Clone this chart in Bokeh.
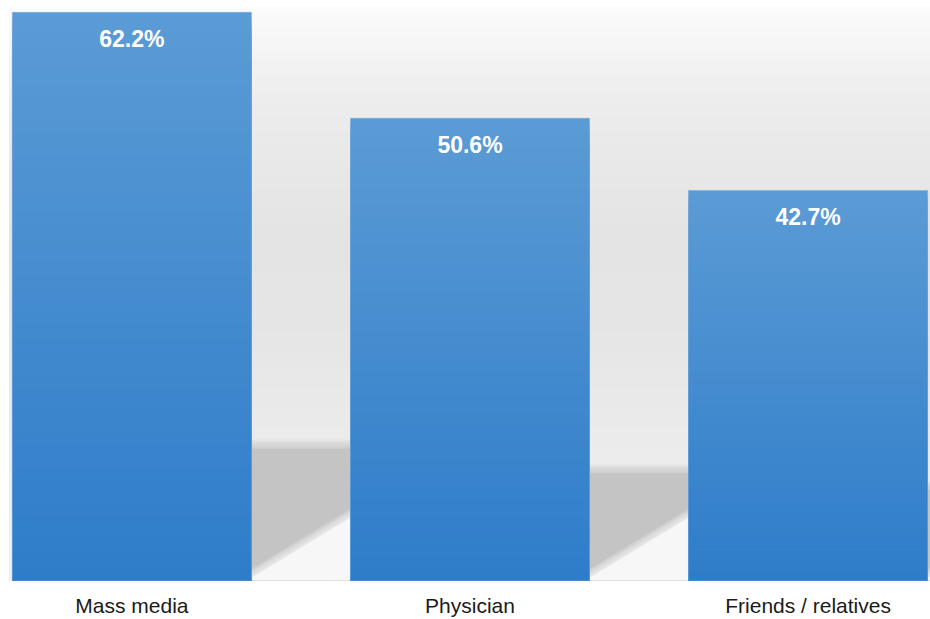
import numpy as np
from bokeh.plotting import figure
from bokeh.models import FactorRange, Range1d, ColumnDataSource
from bokeh.core.properties import value
from bokeh.embed import file_html
from bokeh.resources import INLINE

# ---- data ----
categories = ["Mass media", "Physician", "Friends / relatives"]
percentages = [62.2, 50.6, 42.7]
value_labels = ["62.2%", "50.6%", "42.7%"]

# ---- style ----
Y_MAX = 63.5
BAR_WIDTH = 0.707
BAR_TOP_COLOR = (91, 155, 213)
BAR_BOTTOM_COLOR = (46, 124, 201)
SHADOW_RATIO = 0.232
WALL_STOPS = [(0.0, 240), (0.22, 236), (0.45, 229), (0.62, 228), (0.85, 237), (1.0, 251)]  # fraction from bottom -> gray
WALL_TOP = 62.75


def hexcol(rgb):
    return "#%02x%02x%02x" % tuple(int(round(c)) for c in rgb)


p = figure(
    x_range=FactorRange(factors=categories, range_padding=-0.138, range_padding_units="absolute"),
    y_range=Range1d(0, Y_MAX),
    width=930, height=619,
    output_backend="svg", toolbar_location=None,
    min_border_left=9, min_border_right=0, min_border_top=0, min_border_bottom=39,
)
p.background_fill_color = "white"
p.border_fill_color = "white"
p.outline_line_color = None
p.grid.visible = False
p.yaxis.visible = False

# ---- back wall gradient (stacked quads, tallest first) ----
N_WALL = 120
wall_tops, wall_cols = [], []
fr = np.array([s[0] for s in WALL_STOPS])
gv = np.array([s[1] for s in WALL_STOPS])
for k in range(N_WALL):
    f = 1 - k / N_WALL
    g = np.interp(f, fr, gv)
    wall_tops.append(WALL_TOP * f)
    wall_cols.append(hexcol((g, g, g)))
p.quad(left=0, right=3, bottom=0, top=wall_tops, fill_color=wall_cols, line_color=None)

# ---- shadows on the wall (soft top edge) ----
half = BAR_WIDTH / 2
shadow_layers = [(1.0 - 0.125 * j, 0.14) for j in range(8)] + [(0.0, 1.0)]
for dt, al in shadow_layers:
    xs, ys = [], []
    for i, v in enumerate(percentages):
        xr = i + 0.5 + half
        xn = i + 1.5 - half
        t = SHADOW_RATIO * v + dt
        xs.append([xr, xn, xn, xr])
        ys.append([t, t, 0, 0])
    p.patches(xs=xs, ys=ys, fill_color="#c4c4c4", fill_alpha=al, line_color=None)

# ---- floor below the diagonal (soft edge) ----
floor_layers = [(1.0 - 0.125 * j, 0.14) for j in range(8)] + [(0.0, 1.0)]
for dy, al in floor_layers:
    xs, ys = [], []
    for i, v in enumerate(percentages):
        xr = i + 0.5 + half
        xn = i + 1.5 - half
        xs.append([xr, xr, xn, xn])
        ys.append([0, 0.3 + dy, 6.9 + dy, 0])
    p.patches(xs=xs, ys=ys, fill_color="#f7f7f7", fill_alpha=al, line_color=None)

# ---- bars with vertical gradient (stacked, tallest first) ----
N_BAR = 80
bx, btop, bcol = [], [], []
top_c = np.array(BAR_TOP_COLOR, dtype=float)
bot_c = np.array(BAR_BOTTOM_COLOR, dtype=float)
for k in range(N_BAR):
    f = 1 - k / N_BAR
    col = hexcol(bot_c + (top_c - bot_c) * f)
    for c, v in zip(categories, percentages):
        bx.append(c)
        btop.append(v * f)
        bcol.append(col)
p.vbar(x=bx, top=btop, bottom=0, width=BAR_WIDTH, fill_color=bcol, line_color=None)
p.vbar(x=categories, top=percentages, bottom=0, width=BAR_WIDTH, fill_color=None,
       line_color="#7aaee0", line_alpha=0.6, line_width=1)

# ---- value labels ----
src = ColumnDataSource(dict(x=categories, y=percentages, t=value_labels))
p.text(x="x", y="y", text="t", source=src, text_align="center", text_baseline="middle",
       y_offset=27, text_color="white", text_font=value("Liberation Sans"),
       text_font_style="bold", text_font_size="23px")

# ---- x axis ----
ax = p.xaxis[0]
ax.axis_line_color = None
ax.major_tick_line_color = None
ax.major_tick_out = 0
ax.major_tick_in = 0
ax.minor_tick_line_color = None
ax.major_label_standoff = 13
ax.major_label_text_font = "Liberation Sans"
ax.major_label_text_font_size = "21px"
ax.major_label_text_color = "#1a1a1a"

open("out.html", "w").write(file_html(p, INLINE))
